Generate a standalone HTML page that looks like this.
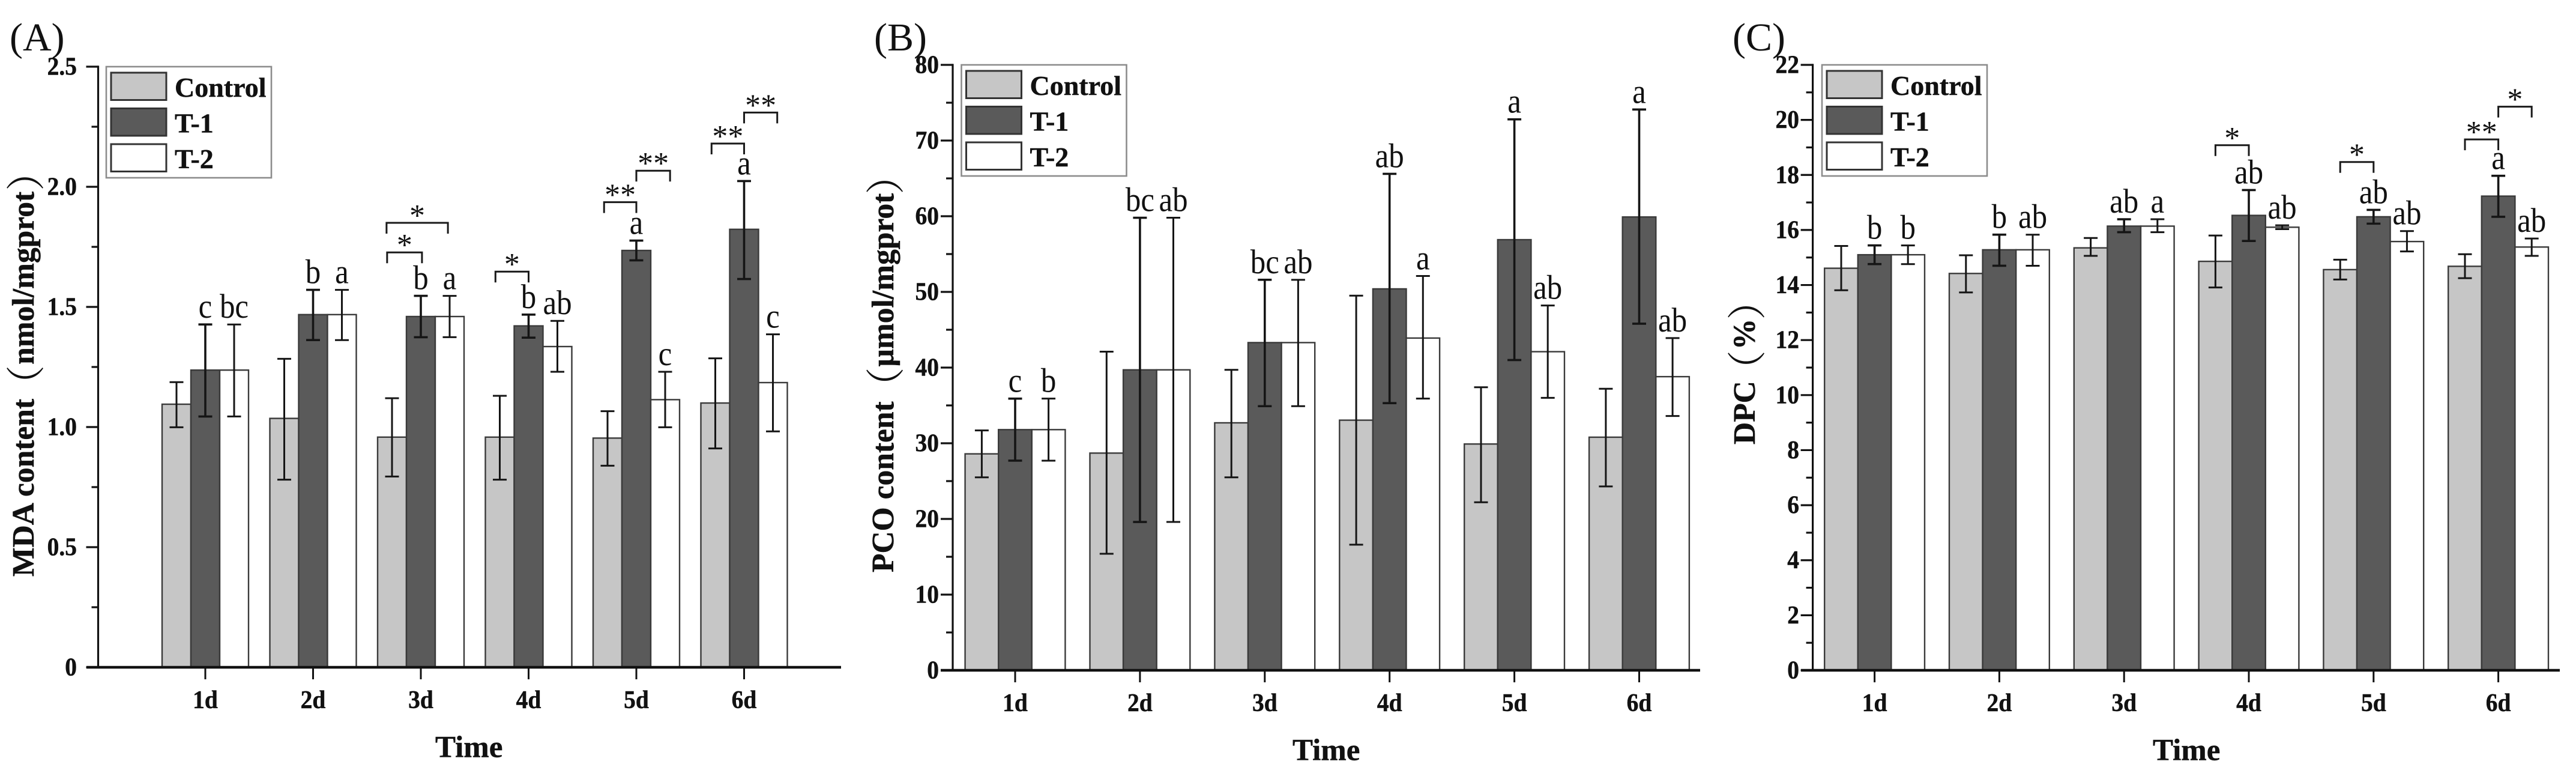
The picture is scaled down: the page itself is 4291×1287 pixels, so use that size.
<!DOCTYPE html>
<html lang="en">
<head>
<meta charset="utf-8">
<title>MDA, PCO and DPC content over time</title>
<style>
html,body{margin:0;padding:0;background:#fff;}
#figure{display:block;width:4291px;height:1287px;}
text{font-family:"Liberation Serif","Noto Serif CJK SC",serif;fill:#111;}
.heavy{font-weight:bold;stroke:#111;stroke-width:0.5px;}
.paren{font-weight:normal;stroke:none;font-size:65px;}
</style>
</head>
<body>
<svg id="figure" xmlns="http://www.w3.org/2000/svg" width="4291" height="1287" viewBox="0 0 4291 1287"></svg>
<script>
const categories = ["1d","2d","3d","4d","5d","6d"];
const seriesNames = ["Control","T-1","T-2"];

const aTicks = ["0","0.5","1.0","1.5","2.0","2.5"];
const aControl = [1.095,1.036,0.958,0.958,0.954,1.10];
const aControlHi = [1.187,1.284,1.12,1.13,1.066,1.286];
const aControlLo = [0.999,0.781,0.794,0.781,0.839,0.911];
const aT1 = [1.237,1.468,1.46,1.421,1.735,1.823];
const aT1Hi = [1.427,1.571,1.546,1.468,1.776,2.024];
const aT1Lo = [1.044,1.362,1.374,1.372,1.694,1.616];
const aT2 = [1.237,1.468,1.46,1.335,1.114,1.185];
const aT2Hi = [1.427,1.571,1.546,1.442,1.23,1.386];
const aT2Lo = [1.044,1.362,1.374,1.23,0.999,0.982];
const aT1Letters = ["c","b","b","b","a","a"];
const aT2Letters = ["bc","a","a","ab","c","c"];
const aBracketCat = [2,2,3,4,4,5,5];
const aBracketFrom = [-1.17,-1.19,-1.15,-1.12,0,-1.13,0];
const aBracketTo = [0.04,0.94,0,0,1.17,0,1.15];
const aBracketLevel = [1.727,1.85,1.647,1.936,2.067,2.18,2.309];
const aBracketMark = ["*","*","*","**","**","**","**"];

const bTicks = ["0","10","20","30","40","50","60","70","80"];
const bControl = [28.6,28.7,32.7,33.05,29.9,30.8];
const bControlHi = [31.7,42.1,39.7,49.5,37.4,37.2];
const bControlLo = [25.5,15.4,25.5,16.6,22.2,24.3];
const bT1 = [31.8,39.7,43.3,50.4,56.9,59.9];
const bT1Hi = [35.9,59.8,51.6,65.6,72.8,74.1];
const bT1Lo = [27.7,19.6,34.9,35.3,41,45.8];
const bT2 = [31.8,39.7,43.3,43.9,42.1,38.8];
const bT2Hi = [35.9,59.8,51.6,52.1,48.2,43.9];
const bT2Lo = [27.7,19.6,34.9,35.9,36,33.6];
const bT1Letters = ["c","bc","bc","ab","a","a"];
const bT2Letters = ["b","ab","ab","a","ab","ab"];
const bBracketCat = [];
const bBracketFrom = [];
const bBracketTo = [];
const bBracketLevel = [];
const bBracketMark = [];

const cTicks = ["0","2","4","6","8","10","12","14","16","18","20","22"];
const cControl = [14.61,14.42,15.35,14.86,14.56,14.68];
const cControlHi = [15.42,15.08,15.71,15.8,14.92,15.12];
const cControlLo = [13.81,13.73,15.06,13.91,14.2,14.25];
const cT1 = [15.1,15.28,16.14,16.53,16.48,17.23];
const cT1Hi = [15.44,15.83,16.39,17.45,16.73,17.97];
const cT1Lo = [14.76,14.7,15.92,15.6,16.23,16.48];
const cT2 = [15.1,15.28,16.14,16.1,15.58,15.38];
const cT2Hi = [15.44,15.83,16.39,16.17,15.96,15.69];
const cT2Lo = [14.76,14.7,15.92,16.03,15.22,15.06];
const cT1Letters = ["b","b","ab","ab","ab","a"];
const cT2Letters = ["b","ab","a","ab","ab","ab"];
const cBracketCat = [3,4,5,5];
const cBracketFrom = [-1.0,-1.0,-1.0,0];
const cBracketTo = [0,0,0,1.0];
const cBracketLevel = [19.08,18.47,19.29,20.48];
const cBracketMark = ["*","*","**","*"];

const SVGNS = "http://www.w3.org/2000/svg";
const root = document.getElementById("figure");
const fills = ["#c6c6c6","#5a5a5a","#ffffff"];

function make(tag, attrs, parent, content) {
  const el = document.createElementNS(SVGNS, tag);
  for (const k in attrs) el.setAttribute(k, attrs[k]);
  if (content !== undefined) el.textContent = content;
  parent.appendChild(el);
  return el;
}

function drawPanel(p) {
  const g = make("g", {}, root);
  
  

  const ticks = p.ticks.map(Number);
  const yMax = ticks[ticks.length - 1];
  const yScale = v => p.y0 - (v / yMax) * (p.y0 - p.yTop);
  const xScale = i => p.x0 + i * p.step;

  const tag = make("text", {x: p.tagX, y: 84, "font-size": 66}, g, "(" + p.id + ")");
  
  

  p.series.forEach((vals, s) => {
    vals.forEach((v, i) => {
      const bx = xScale(i) + (s - 1.5) * p.barW;
      const rect = make("rect", {x: bx, y: yScale(v), width: p.barW, height: p.y0 - yScale(v),
        fill: fills[s], stroke: "#3a3a3a", "stroke-width": 2.4}, g);
      
      
    });
  });

  p.series.forEach((vals, s) => {
    vals.forEach((v, i) => {
      const cx = xScale(i) + (s - 1) * p.barW;
      const hi = yScale(p.hi[s][i]);
      const lo = yScale(p.lo[s][i]);
      const d = "M" + cx + " " + hi + "V" + lo +
        "M" + (cx - 11.5) + " " + hi + "H" + (cx + 11.5) +
        "M" + (cx - 11.5) + " " + lo + "H" + (cx + 11.5);
      const err = make("path", {d: d, fill: "none", stroke: "#151515", "stroke-width": s === 1 ? 3.6 : 3}, g);
      
      
    });
  });

  [[1, p.t1Letters], [2, p.t2Letters]].forEach(pair => {
    const s = pair[0];
    pair[1].forEach((letter, i) => {
      const cx = xScale(i) + (s - 1) * p.barW;
      const ly = yScale(p.hi[s][i]) - 11;
      const t = make("text", {transform: "translate(" + cx + " " + ly + ") scale(1 1.13)",
        "text-anchor": "middle", "font-size": 51}, g, letter);
      
      
    });
  });

  p.bracketCat.forEach((cat, k) => {
    const c = xScale(cat);
    const left = c + p.bracketFrom[k] * p.barW;
    const right = c + p.bracketTo[k] * p.barW;
    const by = yScale(p.bracketLevel[k]);
    const br = make("path", {d: "M" + left + " " + (by + 18) + "V" + by + "H" + right + "V" + (by + 18),
      fill: "none", stroke: "#1a1a1a", "stroke-width": 3}, g);
    
    
    const st = make("text", {x: (left + right) / 2, y: by + 5, "text-anchor": "middle", "font-size": 52}, g, p.bracketMark[k]);
    
    
  });

  ticks.forEach((v, i) => {
    const ty = yScale(v);
    const tk = make("line", {x1: p.axisX - 20, x2: p.axisX, y1: ty, y2: ty, stroke: "#111", "stroke-width": 3.2}, g);
    
    
    const lb = make("text", {transform: "translate(" + p.tickRight + " " + (ty + 13.5) + ") scale(1 1.08)",
      "text-anchor": "end", "font-size": 39.5, "class": "heavy"}, g, p.ticks[i]);
    
    
    if (i < ticks.length - 1) {
      const my = yScale((v + ticks[i + 1]) / 2);
      const mt = make("line", {x1: p.axisX - 11, x2: p.axisX, y1: my, y2: my, stroke: "#111", "stroke-width": 3.2}, g);
      
      
    }
  });

  const yAxis = make("line", {x1: p.axisX, x2: p.axisX, y1: p.yTop - 1.6, y2: p.y0, stroke: "#111", "stroke-width": 3.2}, g);
  
  
  const xAxis = make("line", {x1: p.xAxisStart, x2: p.xAxisEnd, y1: p.y0, y2: p.y0, stroke: "#111", "stroke-width": 4.4}, g);
  
  

  categories.forEach((cat, i) => {
    const tx = xScale(i);
    const tk = make("line", {x1: tx, x2: tx, y1: p.y0, y2: p.y0 + 20, stroke: "#111", "stroke-width": 3}, g);
    
    
    const lb = make("text", {transform: "translate(" + tx + " " + (p.y0 + 68) + ") scale(1 1.08)",
      "text-anchor": "middle", "font-size": 39.5, "class": "heavy"}, g, cat);
    
    
  });

  const xTitle = make("text", {x: p.timeX, y: p.y0 + 149.5, "font-size": 51, "class": "heavy"}, g, "Time");
  
  

  const yTitle = make("text", {transform: "translate(" + p.titleX + " " + p.titleBottom + ") rotate(-90)",
    "font-size": 51.5, "class": "heavy"}, g);
  
  
  make("tspan", {}, yTitle, p.titleHead);
  make("tspan", {"class": "paren", dx: p.titleGapOpen, dy: 10}, yTitle, "（");
  make("tspan", {dx: p.titleGapUnit, dy: -10}, yTitle, p.titleUnit);
  make("tspan", {"class": "paren", dx: p.titleGapClose, dy: 10}, yTitle, "）");

  const leg = make("g", {}, g);
  
  
  const lbox = make("rect", {x: p.legX, y: p.yTop, width: 275, height: 185, fill: "#fff", stroke: "#8c8c8c", "stroke-width": 2.6}, leg);
  
  
  seriesNames.forEach((name, s) => {
    const sy = p.yTop + 10 + s * 59.5;
    const sw = make("rect", {x: p.legX + 8, y: sy, width: 92, height: 45.5, fill: fills[s], stroke: "#333", "stroke-width": 3}, leg);
    
    
    const tx = make("text", {x: p.legX + 114, y: sy + 40, "font-size": 46, "class": "heavy"}, leg, name);
    
    
  });
}

drawPanel({id: "A", tagX: 16, x0: 342, step: 179.5, barW: 48, y0: 1111, yTop: 111, axisX: 163.5,
  xAxisStart: 144, xAxisEnd: 1401, tickRight: 128, timeX: 725, titleX: 56, titleBottom: 960,
  titleGapOpen: -9, titleGapUnit: 1, titleGapClose: 1,
  legX: 177, titleHead: "MDA content", titleUnit: "nmol/mgprot", ticks: aTicks,
  series: [aControl, aT1, aT2], hi: [aControlHi, aT1Hi, aT2Hi], lo: [aControlLo, aT1Lo, aT2Lo],
  t1Letters: aT1Letters, t2Letters: aT2Letters,
  bracketCat: aBracketCat, bracketFrom: aBracketFrom, bracketTo: aBracketTo, bracketLevel: aBracketLevel, bracketMark: aBracketMark});

drawPanel({id: "B", tagX: 1456, x0: 1691, step: 207.9, barW: 55.6, y0: 1116, yTop: 108, axisX: 1587,
  xAxisStart: 1567, xAxisEnd: 2832, tickRight: 1564, timeX: 2153, titleX: 1488, titleBottom: 953,
  titleGapOpen: -8, titleGapUnit: 1, titleGapClose: -2,
  legX: 1601.5, titleHead: "PCO content", titleUnit: "μmol/mgprot", ticks: bTicks,
  series: [bControl, bT1, bT2], hi: [bControlHi, bT1Hi, bT2Hi], lo: [bControlLo, bT1Lo, bT2Lo],
  t1Letters: bT1Letters, t2Letters: bT2Letters,
  bracketCat: bBracketCat, bracketFrom: bBracketFrom, bracketTo: bBracketTo, bracketLevel: bBracketLevel, bracketMark: bBracketMark});

drawPanel({id: "C", tagX: 2886, x0: 3122.6, step: 207.8, barW: 55.6, y0: 1116, yTop: 108, axisX: 3019.6,
  xAxisStart: 3000, xAxisEnd: 4264, tickRight: 2997, timeX: 3586, titleX: 2923, titleBottom: 740,
  titleGapOpen: -14, titleGapUnit: 1, titleGapClose: -2,
  legX: 3035, titleHead: "DPC", titleUnit: "%", ticks: cTicks,
  series: [cControl, cT1, cT2], hi: [cControlHi, cT1Hi, cT2Hi], lo: [cControlLo, cT1Lo, cT2Lo],
  t1Letters: cT1Letters, t2Letters: cT2Letters,
  bracketCat: cBracketCat, bracketFrom: cBracketFrom, bracketTo: cBracketTo, bracketLevel: cBracketLevel, bracketMark: cBracketMark});
</script>
</body>
</html>
